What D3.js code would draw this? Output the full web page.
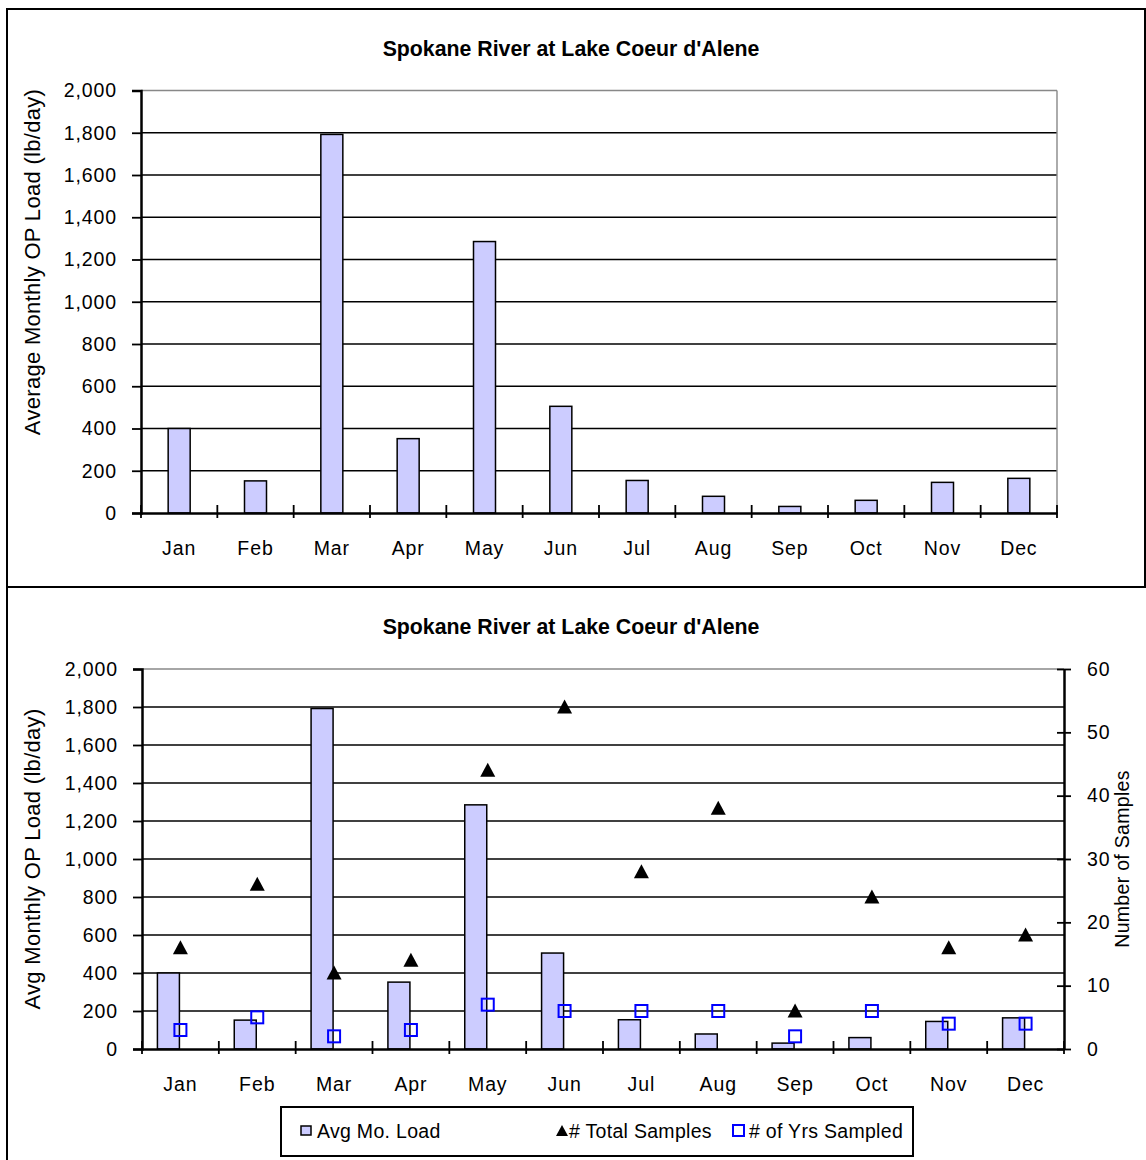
<!DOCTYPE html>
<html>
<head>
<meta charset="utf-8">
<script src="https://cdn.jsdelivr.net/npm/d3@7/dist/d3.min.js"></script>
<style>
  html, body { margin: 0; padding: 0; background: #fff; }
  svg { display: block; }
  text { font-family: "Liberation Sans", Arial, sans-serif; fill: #000; }
</style>
</head>
<body>
<svg id="chart" width="1146" height="1160"></svg>
<script>
// ---------- data ----------
const months = ["Jan","Feb","Mar","Apr","May","Jun","Jul","Aug","Sep","Oct","Nov","Dec"];
const avgLoad = [400, 152, 1792, 352, 1285, 505, 154, 79, 31, 60, 145, 164];
const totalSamples = [16, 26, 12, 14, 44, 54, 28, 38, 6, 24, 16, 18];
const yrsSampled = [3, 5, 2, 3, 7, 6, 6, 6, 2, 6, 4, 4];
const loadTicks = [0, 200, 400, 600, 800, 1000, 1200, 1400, 1600, 1800, 2000];
const sampleTicks = [0, 10, 20, 30, 40, 50, 60];
const titleText = "Spokane River at Lake Coeur d'Alene";
const yTitleTop = "Average Monthly OP Load (lb/day)";
const yTitleBottom = "Avg Monthly OP Load (lb/day)";
const yTitleRight = "Number of Samples";
const legendLabels = ["Avg Mo. Load", "# Total Samples", "# of Yrs Sampled"];

const svg = d3.select("#chart");
const fmt = d3.format(",");
const FS = 19.5, LS = 0.9;
const barFill = "#ccccff";

// ---------- frames ----------
svg.append("line").attr("x1", 7).attr("x2", 1146).attr("y1", 9).attr("y2", 9).attr("stroke", "#000").attr("stroke-width", 2);
svg.append("line").attr("x1", 7).attr("x2", 1146).attr("y1", 587).attr("y2", 587).attr("stroke", "#000").attr("stroke-width", 2);
svg.append("line").attr("x1", 7).attr("x2", 7).attr("y1", 8).attr("y2", 1160).attr("stroke", "#000").attr("stroke-width", 2);
svg.append("line").attr("x1", 1145).attr("x2", 1145).attr("y1", 8).attr("y2", 588).attr("stroke", "#000").attr("stroke-width", 2);

function drawChart(cfg) {
  const g = svg.append("g");
  const x = d3.scaleBand().domain(months).range([cfg.left, cfg.right]);
  const y = d3.scaleLinear().domain([0, 2000]).range([cfg.bottom, cfg.top]);

  // title
  g.append("text").attr("x", 571).attr("y", cfg.titleY)
    .attr("text-anchor", "middle").attr("dominant-baseline", "central")
    .attr("font-size", 21.3).attr("font-weight", "bold").text(titleText);

  // gridlines
  g.selectAll(".grid").data(loadTicks.filter(t => t > 0 && t < 2000)).join("line")
    .attr("x1", cfg.left).attr("x2", cfg.right)
    .attr("y1", d => y(d)).attr("y2", d => y(d))
    .attr("stroke", "#000").attr("stroke-width", 1.4);
  // plot top border (gray)
  g.append("line").attr("x1", cfg.left).attr("x2", cfg.right)
    .attr("y1", y(2000)).attr("y2", y(2000)).attr("stroke", "#888").attr("stroke-width", 1.4);
  if (!cfg.right2) {
    g.append("line").attr("x1", cfg.right).attr("x2", cfg.right)
      .attr("y1", y(2000)).attr("y2", y(0)).attr("stroke", "#888").attr("stroke-width", 1.4);
  }

  // bars
  const bw = 22;
  g.selectAll(".bar").data(months).join("rect")
    .attr("x", (d) => x(d) + x.bandwidth() / 2 + cfg.barShift)
    .attr("width", bw)
    .attr("y", (d, i) => y(avgLoad[i]))
    .attr("height", (d, i) => y(0) - y(avgLoad[i]))
    .attr("fill", barFill).attr("stroke", "#000").attr("stroke-width", 1.5);

  // left axis
  const yAxis = d3.axisLeft(y).tickValues(loadTicks).tickSize(9).tickFormat(fmt);
  const ya = g.append("g").attr("transform", `translate(${cfg.left},0)`).call(yAxis);
  ya.select(".domain").attr("stroke", "#000").attr("stroke-width", 2.5);
  ya.selectAll(".tick line").attr("stroke", "#000").attr("stroke-width", 1.8);
  ya.selectAll(".tick text").attr("x", -24).attr("font-size", FS).attr("letter-spacing", LS)
    .attr("font-family", "Liberation Sans, Arial, sans-serif").attr("fill", "#000");

  // x axis
  const xAxis = d3.axisBottom(x).tickSize(0).tickSizeOuter(0);
  const xa = g.append("g").attr("transform", `translate(0,${cfg.bottom})`).call(xAxis);
  xa.select(".domain").attr("stroke", "#000").attr("stroke-width", 2.5);
  xa.selectAll(".tick text").attr("y", 35).attr("dy", "0.35em").attr("font-size", FS).attr("letter-spacing", LS)
    .attr("font-family", "Liberation Sans, Arial, sans-serif").attr("fill", "#000");
  // category separators ticks crossing the axis
  const bounds = months.map(m => x(m)).concat([cfg.right]);
  g.selectAll(".ctick").data(bounds).join("line")
    .attr("x1", d => d).attr("x2", d => d)
    .attr("y1", cfg.bottom - 8).attr("y2", cfg.bottom + 5)
    .attr("stroke", "#000").attr("stroke-width", 1.8);

  // y title
  g.append("text")
    .attr("transform", `translate(${cfg.yTitleX},${cfg.yTitleY}) rotate(-90)`)
    .attr("text-anchor", "middle").attr("dominant-baseline", "central")
    .attr("font-size", 22).attr("letter-spacing", 0.3).text(cfg.yTitle);

  return { x, y };
}

// ---------- top chart ----------
drawChart({ left: 141, right: 1057, top: 90.5, bottom: 513, titleY: 49, barShift: -11,
  yTitle: yTitleTop, yTitleX: 32, yTitleY: 262 });

// ---------- bottom chart ----------
const bc = { left: 142, right: 1064, top: 669, bottom: 1049, titleY: 627, barShift: -23, right2: true,
  yTitle: yTitleBottom, yTitleX: 32, yTitleY: 859 };
const { x: xB } = drawChart(bc);
const yR = d3.scaleLinear().domain([0, 60]).range([bc.bottom, bc.top]);

// right axis
const rAxis = d3.axisRight(yR).tickValues(sampleTicks).tickSize(0).tickFormat(d3.format("d"));
const ra = svg.append("g").attr("transform", `translate(${bc.right},0)`).call(rAxis);
ra.select(".domain").attr("stroke", "#000").attr("stroke-width", 2.5);
ra.selectAll(".tick text").attr("x", 23).attr("font-size", FS).attr("letter-spacing", LS)
  .attr("font-family", "Liberation Sans, Arial, sans-serif").attr("fill", "#000");
ra.selectAll(".tick").append("line").attr("x1", -7).attr("x2", 7).attr("stroke", "#000").attr("stroke-width", 1.8);

svg.append("text")
  .attr("transform", `translate(1122,859) rotate(-90)`)
  .attr("text-anchor", "middle").attr("dominant-baseline", "central")
  .attr("font-size", FS).attr("letter-spacing", 0.3).text(yTitleRight);

// markers
const cx = m => xB(m) + xB.bandwidth() / 2;
const triPath = "M0,-7.5L7.5,6.5L-7.5,6.5Z";
svg.selectAll(".tri").data(months).join("path")
  .attr("d", triPath)
  .attr("transform", (m, i) => `translate(${cx(m)},${yR(totalSamples[i])})`)
  .attr("fill", "#000");
svg.selectAll(".sq").data(months).join("rect")
  .attr("x", m => cx(m) - 6).attr("width", 12)
  .attr("y", (m, i) => yR(yrsSampled[i]) - 6).attr("height", 12)
  .attr("fill", "none").attr("stroke", "#0000ff").attr("stroke-width", 2);

// ---------- legend ----------
const lg = svg.append("g");
lg.append("rect").attr("x", 281).attr("y", 1107).attr("width", 632).attr("height", 49)
  .attr("fill", "#fff").attr("stroke", "#000").attr("stroke-width", 2);
const ly = 1131;
lg.append("rect").attr("x", 301).attr("y", ly - 5).attr("width", 10).attr("height", 9)
  .attr("fill", barFill).attr("stroke", "#000").attr("stroke-width", 1.5);
lg.append("path").attr("d", "M0,-6L6,5L-6,5Z").attr("transform", `translate(562,${ly})`).attr("fill", "#000");
lg.append("rect").attr("x", 733).attr("y", ly - 6).attr("width", 11).attr("height", 11)
  .attr("fill", "none").attr("stroke", "#0000ff").attr("stroke-width", 2);
const legX = [317, 569, 749];
lg.selectAll(".lt").data(legendLabels).join("text")
  .attr("x", (d, i) => legX[i]).attr("y", ly)
  .attr("dominant-baseline", "central").attr("font-size", FS).attr("letter-spacing", 0.3)
  .text(d => d);
</script>
</body>
</html>
